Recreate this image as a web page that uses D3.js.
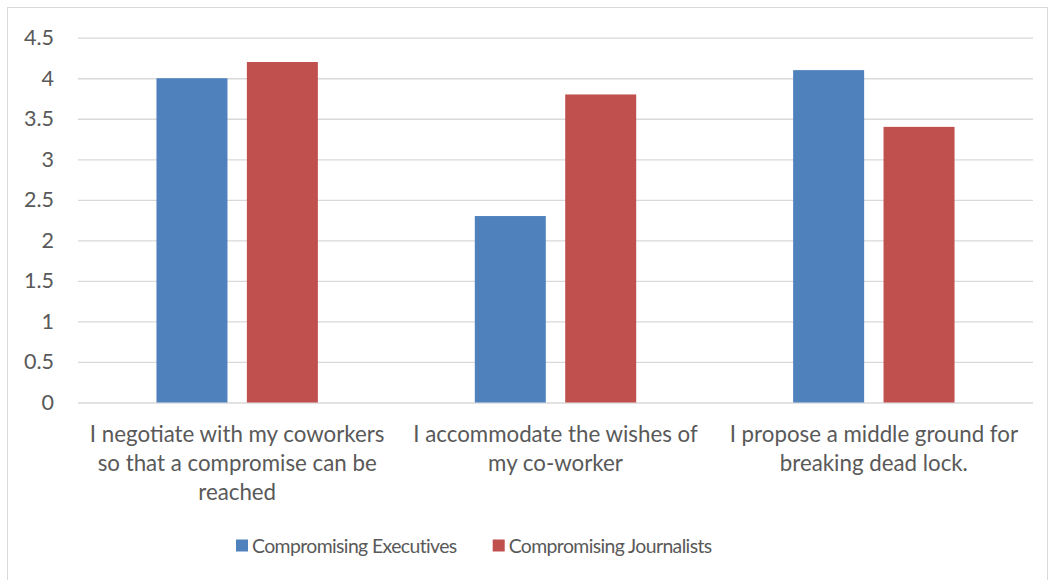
<!DOCTYPE html>
<html>
<head>
<meta charset="utf-8">
<script src="https://cdn.jsdelivr.net/npm/d3@7"></script>
<style>
  html, body { margin: 0; padding: 0; background: #fff; }
  svg { display: block; }
  text { font-family: Lato, "Open Sans", sans-serif; fill: #595959; }
</style>
</head>
<body>
<svg id="chart" width="1048" height="580"></svg>
<script>
// Categories (each label split into its display lines)
const categories = [
  "I negotiate with my coworkers so that a compromise can be reached",
  "I accommodate the wishes of my co-worker",
  "I propose a middle ground for breaking dead lock."
];
const categoryLines = [
  ["I negotiate with my coworkers", "so that a compromise can be", "reached"],
  ["I accommodate the wishes of", "my co-worker"],
  ["I propose a middle ground for", "breaking dead lock."]
];
const seriesNames = ["Compromising Executives", "Compromising Journalists"];
const executives = [4.0, 2.3, 4.1];
const journalists = [4.2, 3.8, 3.4];
const yTicks = [0, 0.5, 1, 1.5, 2, 2.5, 3, 3.5, 4, 4.5];
const colors = ["#4f81bd", "#c0504d"];

const svg = d3.select("#chart");

// Outer chart frame
svg.append("rect")
  .attr("x", 7.5).attr("y", 7.5)
  .attr("width", 1040).attr("height", 580)
  .attr("fill", "#fff").attr("stroke", "#d9d9d9").attr("stroke-width", 1);

const plot = { left: 78, right: 1033, top: 37.7, bottom: 402.5 };

const x0 = d3.scaleBand().domain(categories).range([plot.left, plot.right]).padding(0);
const x1 = d3.scaleBand().domain(seriesNames).range([0, 161.4]).paddingInner(0.2146).paddingOuter(0);
const y = d3.scaleLinear().domain([0, 4.5]).range([plot.bottom, plot.top]);

// Gridlines and y tick labels
const yAxis = d3.axisLeft(y).tickValues(yTicks).tickSize(-(plot.right - plot.left)).tickPadding(24)
  .tickFormat(d => String(d));
const gy = svg.append("g").attr("transform", `translate(${plot.left},0)`).call(yAxis);
gy.select(".domain").remove();
gy.selectAll(".tick line").attr("stroke", "#d9d9d9").attr("stroke-width", 1.3);
gy.selectAll(".tick text")
  .attr("fill", "#595959")
  .style("font-family", "Lato, 'Open Sans', sans-serif")
  .style("font-size", "21.5px");

// Bars
const rows = categories.map((c, i) => ({ cat: c, values: [executives[i], journalists[i]] }));
const groups = svg.append("g").selectAll("g").data(rows).join("g")
  .attr("transform", d => `translate(${x0(d.cat) + x0.bandwidth() / 2 - 80.7},0)`);
groups.selectAll("rect")
  .data(d => d.values.map((v, j) => ({ name: seriesNames[j], value: v, color: colors[j] })))
  .join("rect")
  .attr("x", d => x1(d.name))
  .attr("y", d => y(d.value))
  .attr("width", x1.bandwidth())
  .attr("height", d => y(0) - y(d.value))
  .attr("fill", d => d.color);

// Category labels
const catLabels = svg.append("g").selectAll("text").data(categories).join("text")
  .attr("text-anchor", "middle")
  .style("font-size", "22.3px")
  .attr("transform", d => `translate(${x0(d) + x0.bandwidth() / 2},0)`);
catLabels.selectAll("tspan")
  .data((d, i) => categoryLines[i])
  .join("tspan")
  .attr("x", 0)
  .attr("y", (d, k) => 441.5 + k * 29.3)
  .text(d => d);

// Legend
const legendItems = [
  { name: seriesNames[0], color: colors[0], x: 236 },
  { name: seriesNames[1], color: colors[1], x: 492.7 }
];
const lg = svg.append("g").selectAll("g").data(legendItems).join("g")
  .attr("transform", d => `translate(${d.x},539.5)`);
lg.append("rect").attr("width", 12).attr("height", 12).attr("fill", d => d.color);
lg.append("text").attr("x", 16).attr("y", 13.8)
  .style("font-size", "19.4px").style("letter-spacing", "-0.6px")
  .text(d => d.name);
</script>
</body>
</html>
